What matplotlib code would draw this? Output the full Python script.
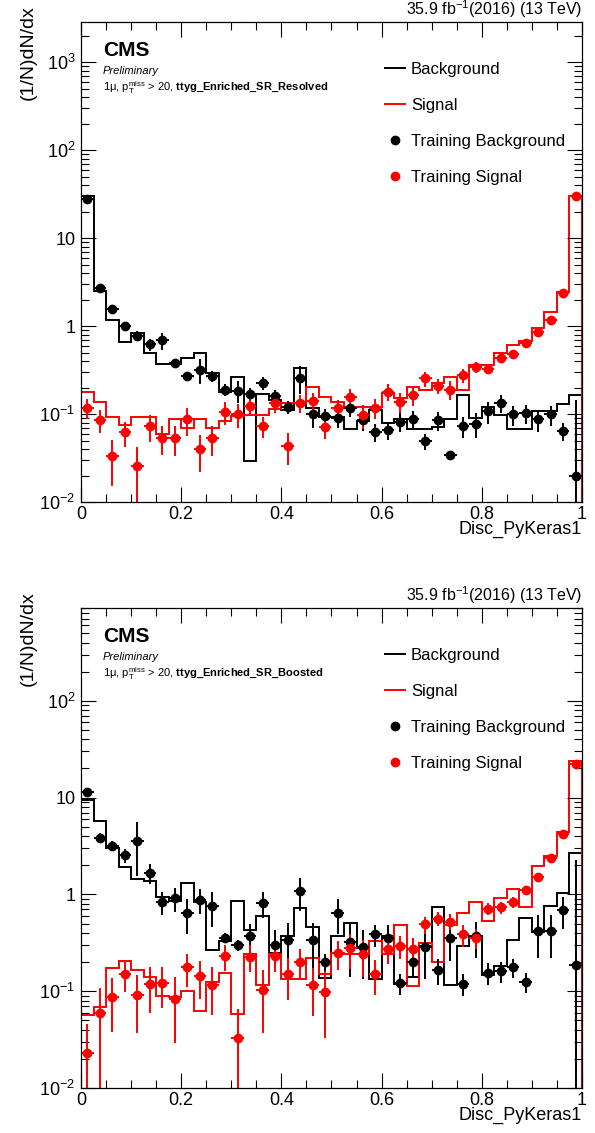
import numpy as np
import matplotlib
matplotlib.use("Agg")
import matplotlib.pyplot as plt
from matplotlib.lines import Line2D
from matplotlib.ticker import FixedLocator, FuncFormatter, MultipleLocator, LogLocator, NullFormatter

plt.rcParams['font.family'] = ['Liberation Sans', 'DejaVu Sans']
plt.rcParams['mathtext.fontset'] = 'custom'
plt.rcParams['mathtext.rm'] = 'Liberation Sans'
plt.rcParams['mathtext.it'] = 'Liberation Sans:italic'
plt.rcParams['mathtext.bf'] = 'Liberation Sans:bold'

# 40 bins of Disc_PyKeras1 in [0,1]
edges = np.linspace(0, 1, 41)
centers = 0.5*(edges[1:]+edges[:-1])

# --- SR_Resolved ---
bkg_hist_res = [30, 2.5, 1.17, 0.66, 0.83, 0.49, 0.37, 0.37, 0.43, 0.49,
                0.295, 0.176, 0.265, 0.029, 0.17, 0.144, 0.111, 0.336, 0.118, 0.093,
                0.093, 0.067, 0.084, 0.111, 0.080, 0.089, 0.067, 0.068, 0.072, 0.089,
                0.164, 0.091, 0.121, 0.097, 0.067, 0.067, 0.108, 0.108, 0.13, 0.164]
sig_hist_res = [0.176, 0.138, 0.093, 0.075, 0.093, 0.093, 0.060, 0.087, 0.069, 0.089,
                0.069, 0.084, 0.095, 0.097, 0.097, 0.113, 0.134, 0.134, 0.205, 0.155,
                0.138, 0.121, 0.121, 0.121, 0.175, 0.151, 0.205, 0.19, 0.223, 0.265,
                0.19, 0.36, 0.36, 0.49, 0.61, 0.68, 0.94, 1.45, 2.45, 30.2]
bkg_pts_res = [28, 2.7, 1.55, 1.0, 0.78, 0.62, 0.69, 0.38, 0.27, 0.32,
               0.27, 0.19, 0.185, 0.17, 0.227, 0.16, 0.119, 0.26, 0.10, 0.095,
               0.09, 0.118, 0.085, 0.063, 0.066, 0.082, 0.089, 0.049, 0.085, 0.034,
               0.073, 0.078, 0.108, 0.134, 0.099, 0.102, 0.087, 0.099, 0.065, 0.0197]
bkg_err_res = [1.5, 0.2, 0.1, 0.12, 0.1, 0.1, 0.15, 0.04, 0.03, 0.1,
               0.04, 0.03, 0.05, 0.03, 0.04, 0.03, 0.02, 0.09, 0.03, 0.02,
               0.02, 0.025, 0.02, 0.015, 0.015, 0.02, 0.02, 0.01, 0.02, 0.003,
               0.02, 0.025, 0.03, 0.03, 0.025, 0.025, 0.025, 0.025, 0.015, 0.125]
sig_pts_res = [0.118, 0.0855, 0.0333, 0.062, 0.0257, 0.073, 0.054, 0.053, 0.087, 0.0397,
               0.053, 0.106, 0.1, 0.124, 0.073, 0.134, 0.0436, 0.134, 0.142, 0.072,
               0.116, 0.157, 0.097, 0.118, 0.18, 0.138, 0.164, 0.254, 0.209, 0.19,
               0.277, 0.345, 0.322, 0.43, 0.48, 0.64, 0.85, 1.17, 2.35, 30]
sig_err_res = [0.03, 0.025, 0.018, 0.02, 0.016, 0.025, 0.02, 0.02, 0.03, 0.018,
               0.02, 0.03, 0.03, 0.03, 0.02, 0.03, 0.017, 0.03, 0.03, 0.02,
               0.03, 0.035, 0.03, 0.03, 0.04, 0.035, 0.04, 0.05, 0.04, 0.045,
               0.05, 0.05, 0.04, 0.05, 0.05, 0.05, 0.06, 0.08, 0.1, 0.5]

# --- SR_Boosted ---
bkg_hist_bst = [9.36, 5.68, 3.03, 1.94, 1.46, 1.38, 0.94, 0.865, 1.31, 0.83,
                0.268, 0.333, 0.85, 0.425, 0.60, 0.247, 0.37, 0.72, 0.464, 0.137,
                0.37, 0.51, 0.279, 0.133, 0.37, 0.119, 0.14, 0.29, 0.75, 0.115,
                0.29, 0.37, 0.146, 0.183, 0.336, 0.577, 0.411, 0.766, 1.03, 2.68]
sig_hist_bst = [0.0563, 0.068, 0.172, 0.205, 0.165, 0.14, 0.09, 0.0865, 0.1, 0.0626,
                0.124, 0.156, 0.058, 0.241, 0.117, 0.241, 0.135, 0.133, 0.219, 0.152,
                0.247, 0.241, 0.241, 0.328, 0.241, 0.483, 0.113, 0.315, 0.202, 0.483,
                0.65, 0.83, 0.532, 0.915, 1.15, 0.75, 1.97, 2.47, 4.42, 23.8]
bkg_pts_bst = [11.5, 3.86, 3.2, 2.53, 3.55, 1.68, 0.83, 0.915, 0.637, 0.88,
               0.766, 0.356, 0.298, 0.37, 0.817, 0.303, 0.341, 1.08, 0.336, 0.202,
               0.637, 0.32, 0.284, 0.386, 0.356, 0.121, 0.199, 0.284, 0.165, 0.356,
               0.119, 0.37, 0.156, 0.162, 0.176, 0.126, 0.418, 0.418, 0.69, 0.186]
bkg_err_bst = [0.5, 0.4, 0.4, 0.4, 2.0, 0.4, 0.22, 0.25, 0.25, 0.25,
               0.3, 0.04, 0.04, 0.12, 0.25, 0.13, 0.17, 0.4, 0.17, 0.04,
               0.25, 0.18, 0.15, 0.1, 0.13, 0.03, 0.06, 0.15, 0.05, 0.15,
               0.03, 0.15, 0.04, 0.04, 0.04, 0.03, 0.2, 0.2, 0.25, 2.1]
sig_pts_bst = [0.023, 0.059, 0.088, 0.149, 0.092, 0.119, 0.122, 0.084, 0.176, 0.144,
               0.117, 0.233, 0.033, 0.228, 0.102, 0.232, 0.152, 0.202, 0.115, 0.098,
               0.247, 0.279, 0.241, 0.152, 0.272, 0.295, 0.272, 0.491, 0.563, 0.524,
               0.386, 0.356, 0.707, 0.735, 0.83, 1.1, 1.52, 2.38, 4.2, 22]
sig_err_bst = [0.023, 0.05, 0.05, 0.05, 0.055, 0.06, 0.055, 0.055, 0.065, 0.06,
               0.06, 0.07, 0.033, 0.07, 0.065, 0.075, 0.07, 0.07, 0.06, 0.065,
               0.08, 0.11, 0.1, 0.06, 0.08, 0.08, 0.08, 0.1, 0.09, 0.1,
               0.1, 0.08, 0.1, 0.1, 0.1, 0.1, 0.12, 0.12, 0.15, 0.5]

yticks = [1e-2, 1e-1, 1, 10, 1e2, 1e3]
ytick_labels = [r'$10^{-2}$', r'$10^{-1}$', '1', '10', r'$10^{2}$', r'$10^{3}$']


def panel(ax, bkg_hist, sig_hist, bkg_pts, bkg_err, sig_pts, sig_err, region, ymax):
    ax.set_yscale('log')
    ax.stairs(bkg_hist, edges, baseline=1e-6, color='black', lw=1.4)
    ax.stairs(sig_hist, edges, baseline=1e-6, color='#ff0000', lw=1.4)
    for pts, err, col in [(bkg_pts, bkg_err, 'black'), (sig_pts, sig_err, '#ff0000')]:
        pts = np.array(pts)
        err = np.array(err)
        lo = np.where(err >= pts, pts - 1e-6, err)
        ax.errorbar(centers, pts, yerr=[lo, err], xerr=0.0125, fmt='o', color=col,
                    ms=6, elinewidth=1.4, capsize=0)
    ax.set_xlim(0, 1)
    ax.set_ylim(1e-2, ymax)

    ax.xaxis.set_major_locator(MultipleLocator(0.2))
    ax.xaxis.set_minor_locator(MultipleLocator(0.05))
    ax.xaxis.set_major_formatter(FuncFormatter(lambda v, p: '%g' % round(v, 3)))
    ax.yaxis.set_major_locator(FixedLocator(yticks))
    ax.yaxis.set_major_formatter(FuncFormatter(
        lambda v, p: ytick_labels[yticks.index(v)] if v in yticks else ''))
    ax.yaxis.set_minor_locator(LogLocator(base=10, subs=np.arange(2, 10), numticks=20))
    ax.yaxis.set_minor_formatter(NullFormatter())
    ax.tick_params(which='both', direction='in', top=True, right=True, width=0.8)
    ax.tick_params(which='major', length=10.5, labelsize=13)
    ax.tick_params(axis='x', which='major', pad=3)
    ax.tick_params(axis='y', which='major', pad=4)
    ax.tick_params(which='minor', length=5.5)
    for s in ax.spines.values():
        s.set_linewidth(0.9)

    ax.text(1.0, 1.0146, r'35.9 fb$^{-1}$(2016) (13 TeV)', transform=ax.transAxes,
            ha='right', va='baseline', fontsize=11.5)
    ax.text(0.044, 0.93, 'CMS', transform=ax.transAxes, ha='left', va='baseline',
            fontsize=15, fontweight='bold')
    ax.text(0.044, 0.892, 'Preliminary', transform=ax.transAxes, ha='left', va='baseline',
            fontsize=8, style='italic')
    ax.text(0.044, 0.856, '1μ, p$_{\\mathrm{T}}^{\\mathrm{miss}}$ > 20, $\\mathbf{' + region.replace('_', '\\_') + '}$',
            transform=ax.transAxes, ha='left', va='baseline', fontsize=8)
    ax.text(-0.105, 1.035, '(1/N)dN/dx', transform=ax.transAxes, rotation=90,
            ha='center', va='top', fontsize=14)
    ax.text(1.0, -0.058, 'Disc_PyKeras1', transform=ax.transAxes, ha='right',
            va='center', fontsize=13)

    handles = [Line2D([], [], color='black', lw=1.4),
               Line2D([], [], color='#ff0000', lw=1.4),
               Line2D([], [], color='black', marker='o', ls='none', ms=6),
               Line2D([], [], color='#ff0000', marker='o', ls='none', ms=6)]
    ax.legend(handles, ['Background', 'Signal', 'Training Background', 'Training Signal'],
              loc='upper left', bbox_to_anchor=(0.607, 0.917), frameon=False,
              fontsize=12, handlelength=1.2, handletextpad=0.36, labelspacing=1.27,
              borderpad=0, borderaxespad=0)


fig = plt.figure(figsize=(5.95, 11.33), dpi=100)
ax1 = fig.add_axes([0.1361, 0.5569, 0.842, 0.4237])
ax2 = fig.add_axes([0.1361, 0.0397, 0.842, 0.4237])
panel(ax1, bkg_hist_res, sig_hist_res, bkg_pts_res, bkg_err_res, sig_pts_res, sig_err_res,
      'ttyg_Enriched_SR_Resolved', 2870)
panel(ax2, bkg_hist_bst, sig_hist_bst, bkg_pts_bst, bkg_err_bst, sig_pts_bst, sig_err_bst,
      'ttyg_Enriched_SR_Boosted', 910)
fig.savefig('out.png', dpi=100)
